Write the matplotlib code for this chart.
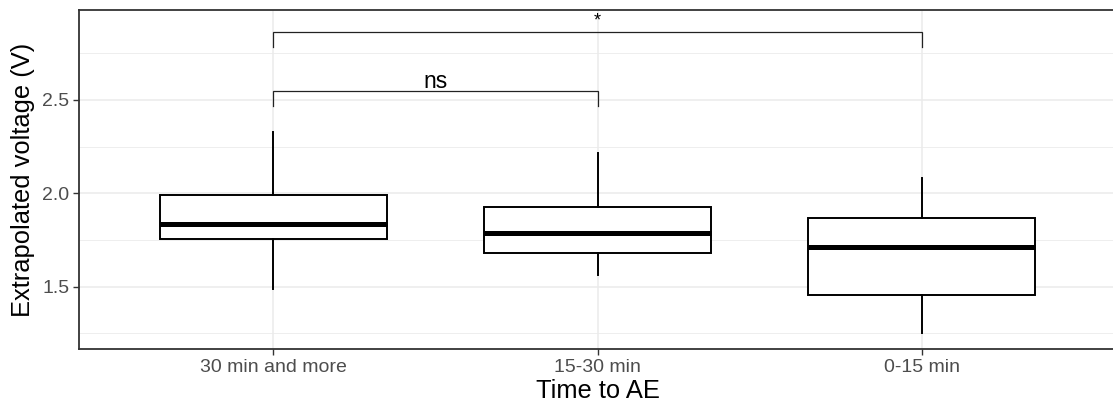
import matplotlib
matplotlib.use("Agg")
import matplotlib.pyplot as plt
from matplotlib.ticker import MultipleLocator

plt.rcParams['font.family'] = ['Liberation Sans', 'DejaVu Sans']

categories = ["30 min and more", "15-30 min", "0-15 min"]
whislo = [1.49, 1.563, 1.254]
q1 = [1.755, 1.682, 1.454]
med = [1.834, 1.786, 1.711]
q3 = [1.99, 1.929, 1.866]
whishi = [2.33, 2.214, 2.080]

comparisons = [(0, 1, 2.55, 2.468, "ns"), (0, 2, 2.864, 2.786, "*")]

W, H = 1113, 407
fig = plt.figure(figsize=(W / 100, H / 100), dpi=100)
left, right, top, bottom = 79, 1116, 10, 349
ax = fig.add_axes([left / W, 1 - bottom / H, (right - left) / W, (bottom - top) / H])

stats = []
for i, c in enumerate(categories):
    stats.append(dict(label=c, whislo=whislo[i], q1=q1[i], med=med[i], q3=q3[i],
                      whishi=whishi[i], fliers=[]))
ax.bxp(stats, positions=[1, 2, 3], widths=0.7, showcaps=False, patch_artist=True,
       boxprops=dict(facecolor='white', edgecolor='black', linewidth=1.4),
       whiskerprops=dict(color='black', linewidth=1.4),
       medianprops=dict(color='black', linewidth=3.6, solid_capstyle='butt'),
       zorder=3)

for a, b, yb, yt, lab in comparisons:
    xa, xb = a + 1, b + 1
    ax.plot([xa, xa, xb, xb], [yt, yb, yb, yt], color='#222222', lw=0.9, zorder=4,
            solid_joinstyle='miter')
    if lab == '*':
        ax.text((xa + xb) / 2, yb + 0.034, lab, ha='center', va='baseline',
                fontsize=13, color='black', zorder=5)
    else:
        ax.text((xa + xb) / 2, yb + 0.015, lab, ha='center', va='baseline',
                fontsize=16.5, color='black', zorder=5)

ax.set_xlim(0.4, 3.6)
ax.set_ylim(1.166, 2.982)
ax.yaxis.set_major_locator(MultipleLocator(0.5))
ax.yaxis.set_minor_locator(MultipleLocator(0.25))
ax.set_xticks([1, 2, 3])
ax.set_xticklabels(categories)
ax.grid(True, which='major', color='#EBEBEB', lw=1.1, zorder=0)
ax.grid(True, which='minor', axis='y', color='#EBEBEB', lw=0.6, zorder=0)
ax.set_axisbelow(True)
ax.tick_params(axis='both', which='major', length=4, width=1, color='#333333',
               labelsize=14, labelcolor='#4D4D4D', pad=3)
ax.tick_params(axis='y', which='minor', length=0)
for s in ax.spines.values():
    s.set_color('#333333')
    s.set_linewidth(1.3)
ax.set_xlabel("Time to AE", fontsize=18.4, color='black', labelpad=2)
ax.set_ylabel("Extrapolated voltage (V)", fontsize=18.4, color='black', labelpad=5)

fig.savefig("out.png", dpi=100)
